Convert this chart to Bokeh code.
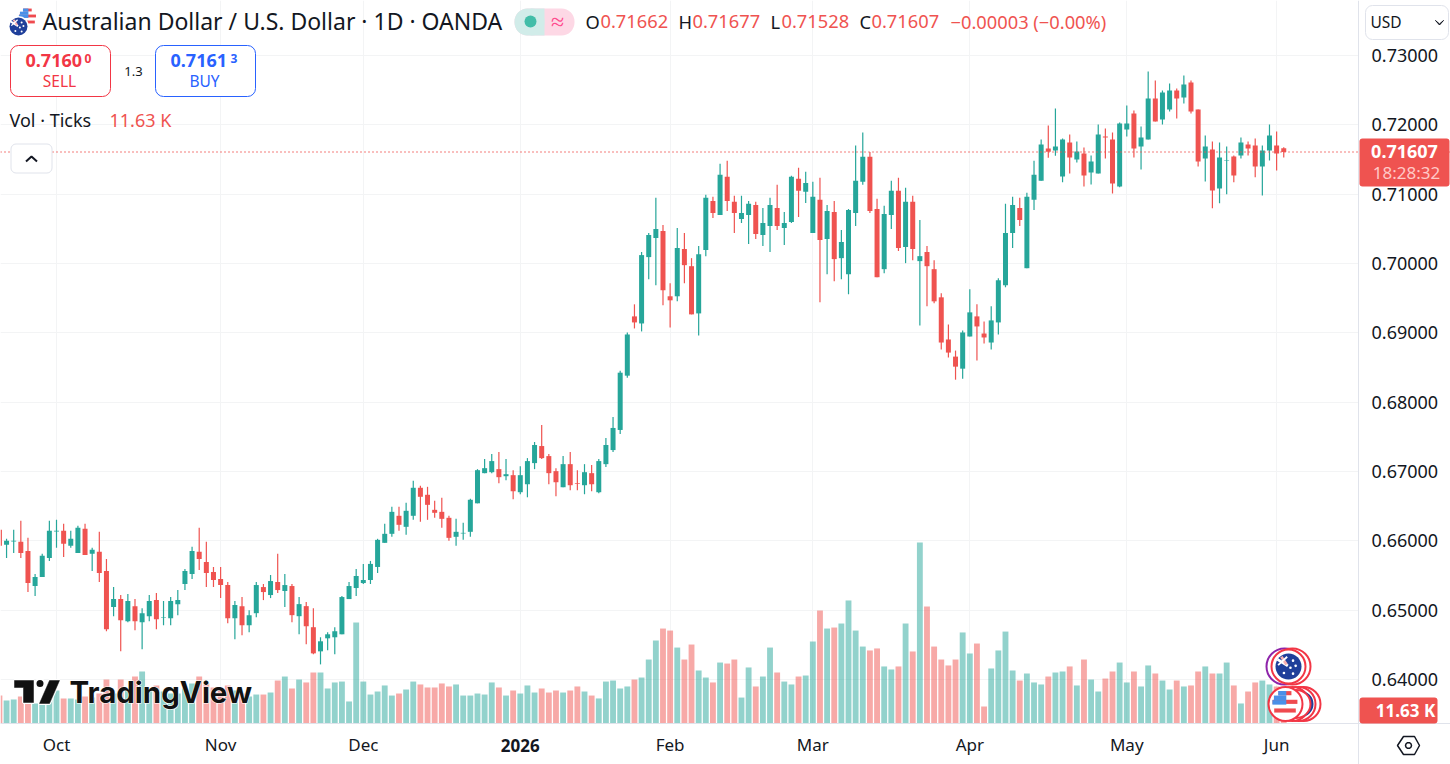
from bokeh.plotting import figure
from bokeh.embed import file_html
from bokeh.resources import INLINE
from bokeh.models import (Range1d, FixedTicker, PrintfTickFormatter, Label, BoxAnnotation,
                          PolyAnnotation, Span)
import math

# ---------------- data ----------------
bar_index = list(range(-8, 173))
opens = [
 .66159,.65942,.6599,.65986,.65855,.65348,.65478,.65754,.66135,.66145,
 .65928,.65826,.66174,.65812,.65841,.65565,.65044,.6516,.64841,.65058,
 .64826,.64913,.65145,.64889,.64884,.65087,.65377,.65522,.65841,.65696,
 .65551,.65449,.65362,.64884,.65058,.64783,.64957,.65333,.65218,.65406,
 .65276,.65348,.64913,.65058,.64754,.64406,.64594,.64609,.64652,.6516,
 .65319,.65391,.65435,.65623,.65971,.66101,.66361,.66202,.66361,.66765,
 .66664,.66447,.66418,.66332,.66058,.66106,.6613,.66541,.66976,.6699,
 .67034,.66932,.66947,.66701,.66816,.67121,.67367,.67222,.67005,.66773,
 .67106,.66831,.66802,.66976,.66701,.67106,.67309,.67599,.68382,.69237,
 .69135,.70092,.70367,.70469,.69527,.69527,.70208,.69961,.6928,.70193,
 .70903,.707,.71251,.70889,.70642,.707,.70845,.70411,.70541,.70802,
 .70512,.70599,.71222,.71034,.7044,.70918,.70353,.70744,.70077,.69845,
 .70729,.71179,.71541,.70787,.69918,.707,.71048,.70237,.70889,.70034,
 .70164,.69918,.69512,.68904,.68657,.68483,.68947,.69237,.6899,.6886,
 .6915,.69686,.7044,.70802,.69932,.70918,.71193,.71657,.71628,.71256,
 .71746,.71501,.71587,.71314,.71299,.71832,.71789,.71112,.71933,.72163,
 .71688,.71789,.72379,.72077,.72221,.72494,.72394,.7261,.72221,.71515,
 .71645,.71083,.71477,.71544,.71558,.71717,.71702,.714,.7163,.71702,.71662]
closes = [
 .65928,.66,.66,.65826,.65391,.65478,.65783,.66145,.66145,.65957,
 .66029,.66188,.65797,.6587,.65536,.64725,.6516,.64855,.65131,.64841,
 .64957,.65131,.6487,.64899,.65131,.65145,.65565,.65855,.65739,.65536,
 .65435,.65362,.64884,.65073,.64783,.64928,.65362,.65261,.6542,.6529,
 .65362,.64928,.65087,.64768,.64377,.64551,.64652,.64696,.65189,.65348,
 .65493,.65435,.65667,.66014,.66101,.66418,.66231,.66433,.66765,.66635,
 .66519,.66404,.66317,.66043,.6613,.66115,.66592,.67019,.67048,.6715,
 .66918,.66961,.66715,.66947,.6715,.67382,.67193,.66976,.66845,.67106,
 .66802,.66821,.6699,.66816,.6715,.67382,.67628,.68425,.68976,.6915,
 .70121,.70411,.70497,.69614,.69469,.70222,.69976,.69266,.70135,.70947,
 .70729,.7128,.70903,.70729,.70729,.7086,.70425,.70584,.70845,.70541,
 .70584,.71251,.71048,.7116,.70961,.70338,.70758,.70063,.70309,.70773,
 .71193,.71541,.70758,.69802,.70715,.71048,.70222,.70889,.70208,.70106,
 .69961,.69454,.6886,.68715,.68512,.69005,.69295,.69092,.68933,.69179,
 .69758,.7044,.70845,.70628,.70961,.7128,.71715,.71613,.71686,.71789,
 .7153,.71616,.7127,.71472,.71861,.71818,.71155,.72019,.72019,.71659,
 .71818,.72379,.72048,.72466,.72494,.72379,.72581,.72192,.71472,.71688,
 .71054,.7153,.71486,.7127,.71746,.71659,.714,.7163,.71846,.71587,.71607]
highs = [
 .66193,.66029,.66159,.6629,.66043,.65522,.65812,.6629,.66304,.66246,
 .66145,.66217,.66246,.65899,.6613,.65739,.65333,.65218,.65232,.6516,
 .65029,.65218,.65247,.65131,.65189,.6529,.65594,.65913,.66188,.65986,
 .65623,.65623,.65406,.65131,.65189,.65,.65406,.65377,.65507,.65812,
 .65522,.65377,.65189,.65116,.65029,.64609,.64681,.64754,.65203,.65406,
 .65594,.65667,.6571,.66029,.66245,.66491,.66491,.66548,.66866,.66794,
 .66779,.66577,.6662,.66361,.66317,.6626,.66606,.67034,.67179,.67251,
 .6728,.67179,.67019,.67077,.67193,.67425,.67671,.67251,.67048,.67222,
 .6728,.67019,.67106,.67092,.67179,.67483,.67787,.68454,.69005,.69411,
 .70164,.7044,.70947,.70555,.69715,.70512,.7044,.70077,.70251,.7099,
 .70961,.71439,.71483,.70976,.70976,.70903,.70889,.70802,.70947,.71135,
 .70744,.71265,.71381,.71323,.71179,.71236,.70845,.70903,.70483,.70787,
 .717,.71889,.71608,.70932,.70831,.71193,.71236,.71092,.70976,.70628,
 .70251,.70048,.6957,.69121,.68744,.69034,.69628,.69411,.69164,.69382,
 .69787,.7086,.70961,.70947,.71019,.71483,.71787,.7199,.72236,.71803,
 .71861,.7176,.71674,.71558,.72005,.71947,.7189,.72034,.72278,.72206,
 .71976,.72768,.72638,.72494,.72595,.72523,.7271,.72638,.72221,.71846,
 .7176,.71746,.71688,.71558,.71818,.7176,.71803,.71702,.72005,.71904,.71677]
lows = [
 .65903,.65754,.65826,.65754,.65261,.65203,.65478,.6571,.65899,.65768,
 .65899,.65826,.65797,.65565,.65406,.64696,.64913,.64406,.64826,.6471,
 .64435,.64841,.64725,.64783,.64783,.64928,.6529,.65449,.6558,.65333,
 .65333,.65174,.64812,.6458,.64638,.64681,.64899,.65145,.65174,.65247,
 .65044,.64826,.64652,.64508,.64363,.64218,.64421,.64363,.64652,.6516,
 .65203,.65377,.65377,.65536,.65971,.66058,.66144,.66087,.66303,.66274,
 .66303,.66332,.66188,.66,.65928,.66014,.66058,.66541,.66976,.66976,
 .66831,.66874,.66599,.66672,.66628,.67034,.67179,.66816,.66643,.66773,
 .6673,.6673,.66672,.66715,.66686,.67063,.6728,.67541,.68353,.69063,
 .6902,.69773,.69686,.69396,.69077,.69454,.69715,.69266,.68962,.70106,
 .70657,.707,.70758,.7044,.70584,.7028,.70353,.70251,.70164,.70483,
 .70266,.70584,.70671,.70874,.7044,.6944,.69845,.69744,.69773,.69556,
 .70541,.71135,.70729,.69802,.6986,.70497,.70179,.70005,.70048,.69106,
 .69382,.69425,.68759,.68643,.68324,.68338,.68947,.68599,.68846,.68759,
 .68976,.69657,.70222,.70541,.69932,.70773,.71193,.71526,.71555,.7117,
 .71299,.71458,.71112,.71141,.71299,.71515,.71011,.71098,.71832,.7153,
 .71357,.71789,.72048,.72005,.72192,.72091,.72307,.72163,.714,.71184,
 .70795,.70867,.70997,.7117,.71515,.71558,.71242,.70982,.71486,.71342,.71528]
volumes_k = [
 25.0,20.6,21.5,24.1,20.6,17.9,20.6,25.0,
 29.5,22.4,22.4,21.5,24.1,23.2,26.8,39.3,26.8,39.3,
 29.5,42.0,46.5,31.3,34.0,28.6,26.8,26.8,31.3,35.8,
 42.0,35.8,32.2,30.4,34.0,29.5,26.8,24.1,25.9,25.9,
 27.7,38.4,42.0,31.3,39.3,36.7,45.6,45.6,31.3,36.7,
 37.5,19.7,90.3,37.5,25.9,28.6,34.0,25.0,26.8,30.4,
 37.5,34.9,32.2,32.2,35.8,33.1,34.9,25.0,25.0,26.8,
 25.9,36.7,32.2,25.0,29.5,26.8,34.0,27.7,31.3,27.7,
 29.5,27.7,29.5,33.1,28.6,25.0,22.4,37.5,38.4,31.3,
 33.1,39.3,41.1,57.2,74.2,84.9,83.1,67.9,57.2,70.6,
 47.4,41.1,36.7,54.5,53.6,57.2,23.2,50.1,33.1,42.0,
 67.9,45.6,37.5,34.9,42.0,42.9,73.3,101.0,84.9,85.8,
 89.4,110.0,83.1,68.8,65.3,67.1,51.0,48.3,51.0,89.4,
 64.4,161.8,104.6,68.8,57.2,51.9,57.2,81.4,62.6,71.5,
 15.2,49.2,65.3,82.2,47.4,38.4,44.7,36.7,34.9,42.0,
 45.6,46.5,51.0,34.0,57.2,39.3,28.6,40.2,46.5,54.5,
 36.7,46.5,33.1,51.9,44.7,38.4,30.4,38.4,33.1,34.0,
 46.5,51.0,44.7,44.7,54.5,34.0,17.9,28.6,36.7,38.4,
 34.9,33.1,11.63]
month_ticks = [0, 23, 43, 65, 86, 106, 128, 150, 171]
month_labels = ["Oct", "Nov", "Dec", "2026", "Feb", "Mar", "Apr", "May", "Jun"]
price_ticks = [0.64, 0.65, 0.66, 0.67, 0.68, 0.69, 0.70, 0.71, 0.72, 0.73]
last_price = 0.71607

# ---------------- style ----------------
GREEN, RED = "#26a69a", "#ef5350"
INK, GRID, EDGE = "#131722", "#f3f4f5", "#e0e3eb"
FONT = "Noto Sans"

# The frame fills the canvas, so the page furniture outside the chart pane can be drawn;
# the two axes sit at fixed locations on the edges of the pane.
p = figure(width=1450, height=764, output_backend="svg", toolbar_location=None,
           x_range=Range1d(-7.849, 195.37), y_range=Range1d(0.62774, 0.73793),
           y_axis_location="right", min_border=0, background_fill_color="white",
           border_fill_color="white", outline_line_color=None)
p.extra_y_ranges = {"vol": Range1d(-36.65, 646.4), "py": Range1d(764, 0)}
p.extra_x_ranges = {"px": Range1d(0, 1450)}

for ax in (p.xaxis[0], p.yaxis[0]):
    ax.axis_line_color = EDGE
    ax.major_tick_line_color = None
    ax.minor_tick_line_color = None
    ax.major_label_text_color = INK
    ax.major_label_text_font = FONT
ax = p.yaxis[0]
ax.fixed_location = 182.48
ax.ticker = FixedTicker(ticks=price_ticks)
ax.formatter = PrintfTickFormatter(format="%.5f")
ax.major_label_text_font_size = "18px"
ax.major_label_standoff = 7
ax = p.xaxis[0]
ax.fixed_location = 0.63365
ax.ticker = FixedTicker(ticks=month_ticks)
ax.major_label_overrides = {t: (" " if l == "2026" else l) for t, l in zip(month_ticks, month_labels)}
ax.major_label_text_font_size = "17px"
ax.major_label_standoff = 3
p.xgrid.grid_line_color = GRID
p.ygrid.grid_line_color = GRID

# white mats: grid lines stop at the edges of the chart pane
for l, r, t, b in [(1358, 1450, 0, 764), (0, 1450, 723, 764)]:
    p.add_layout(BoxAnnotation(left=l, right=r, top=t, bottom=b, left_units="canvas", right_units="canvas",
                               top_units="canvas", bottom_units="canvas", fill_color="white", fill_alpha=1,
                               line_alpha=0, level="underlay"))

# ---------------- series ----------------
up = [c >= o for o, c in zip(opens, closes)]
colors = [GREEN if u else RED for u in up]
tops = [max(o, c) for o, c in zip(opens, closes)]
bots = [min(o, c) for o, c in zip(opens, closes)]
p.vbar(x=bar_index, top=volumes_k, bottom=0, width=0.82, fill_color=colors, fill_alpha=0.5,
       line_color=None, y_range_name="vol")
p.segment(x0=bar_index, x1=bar_index, y0=lows, y1=highs, line_color=colors, line_width=1.2)
p.vbar(x=bar_index, top=tops, bottom=bots, width=0.70, fill_color=colors, line_color=None)
p.add_layout(Span(location=last_price, dimension="width", line_color=RED, line_width=1.4, line_dash="1 3"))

# ---------------- helpers in canvas pixels ----------------
def txt(x, y, text, size, color=INK, align="left", bold=False, font=FONT, **kw):
    p.add_layout(Label(x=x, y=y, x_units="canvas", y_units="canvas", text=text,
                       text_font=font, text_font_size=f"{size}px", text_color=color,
                       text_align=align, text_baseline="middle",
                       text_font_style="bold" if bold else "normal", **kw))

def box(x0, y0, x1, y1, fill="white", line=None, radius=0, lw=1):
    p.add_layout(BoxAnnotation(left=x0, right=x1, top=y0, bottom=y1,
                               left_units="canvas", right_units="canvas", top_units="canvas",
                               bottom_units="canvas", fill_color=fill, fill_alpha=1,
                               line_color=line, line_alpha=1 if line else 0, line_width=lw,
                               border_radius=radius))

def poly(xs, ys, fill=None, line=None, lw=1):
    p.add_layout(PolyAnnotation(xs=list(xs), ys=list(ys), xs_units="canvas", ys_units="canvas",
                                fill_color=fill, fill_alpha=1 if fill else 0,
                                line_color=line, line_alpha=1 if line else 0, line_width=lw))

PX = dict(x_range_name="px", y_range_name="py", level="overlay")

def dot(x, y, d, fill, line=None, lw=1):
    p.scatter([x], [y], marker="circle", size=d, fill_color=fill, line_color=line, line_width=lw, **PX)

def chord(cx, cy, r, dy, color, lw, x0=None, x1=None):
    half = math.sqrt(max(r * r - dy * dy, 0))
    a, b = cx - half, cx + half
    if x0 is not None:
        a = max(a, x0)
    if x1 is not None:
        b = min(b, x1)
    p.line([a, b], [cy + dy, cy + dy], line_color=color, line_width=lw, **PX)

def us_flag(cx, cy, r):
    dot(cx, cy, 2 * r, "white")
    n = 6
    for k in range(n):
        dy = -r + (k + 0.5) * 2 * r / n
        if k % 2 == 0:
            chord(cx, cy, r - 0.4, dy, "#ef4a4f", 2 * r / n * 0.95)
    for k in range(3):
        dy = -r + (k + 0.5) * r / 3 * 1.05
        chord(cx, cy, r - 0.3, dy, "#4a90e8", r / 3 * 1.05, x1=cx + 0.1 * r)

def au_flag(cx, cy, r):
    dot(cx, cy, 2 * r, "#1f3f9a")
    for dx, dy in [(.35, -.45), (.55, -.05), (.15, .1), (.35, .55), (-.35, .5)]:
        dot(cx + dx * r, cy + dy * r, max(2, r * .2), "white")
    p.line([cx - .85 * r, cx - .05 * r], [cy - .55 * r, cy - .05 * r], line_color="#ffffff", line_width=r * .22, **PX)
    p.line([cx - .55 * r, cx - .15 * r], [cy - .75 * r, cy - .15 * r], line_color="#f7b0b0", line_width=r * .22, **PX)
    p.line([cx - .8 * r, cx - .1 * r], [cy - .1 * r, cy - .75 * r], line_color="#ffffff", line_width=r * .14, **PX)

# ---------------- header ----------------
us_flag(27, 17, 9)
dot(18, 26, 21, "white")
au_flag(18, 26, 9)

txt(42, 20.5, "Australian Dollar / U.S. Dollar · 1D · OANDA", 23)
box(514, 8, 574, 35, fill="#fdd8e5", radius=13)
box(514, 8, 544, 35, fill="#d1ece9", radius=13)
box(530, 8, 544, 35, fill="#d1ece9")
dot(530, 21, 12, "#42bda8")
txt(557, 20, "≈", 24, color="#ff4a8d", align="center")

ohlc = [(585, "O", 600, "0.71662"), (678, "H", 692, "0.71677"), (770, "L", 781, "0.71528"), (859, "C", 871, "0.71607")]
for lx, l, vx, v in ohlc:
    txt(lx, 21, l, 18.3)
    txt(vx, 21, v, 18.3, color=RED)
txt(950, 21, "−0.00003 (−0.00%)", 18.3, color=RED)

box(10, 45, 110, 96, line="#f23645", radius=8)
txt(25, 60, "0.7160", 18, color="#f23645", bold=True)
txt(84, 58, "0", 12, color="#f23645", bold=True)
txt(59, 80, "SELL", 15.5, color="#f23645", align="center")
txt(133, 71, "1.3", 13, align="center")
box(155, 45, 255, 96, line="#2962ff", radius=8)
txt(170, 60, "0.7161", 18, color="#2962ff", bold=True)
txt(230, 58, "3", 12, color="#2962ff", bold=True)
txt(204, 80, "BUY", 15.5, color="#2962ff", align="center")

txt(9, 119.5, "Vol · Ticks", 18)
txt(109, 119.5, "11.63 K", 18, color=RED)
box(10.5, 143.5, 51.5, 172.5, line=EDGE, radius=5)
p.line([25.5, 31, 36.5], [161, 156, 161], line_color=INK, line_width=2, **PX)

# ---------------- watermark ----------------
tx = [14, 33, 33, 23, 23, 14]
ty = [680, 680, 702, 702, 687, 687]
sx = [49, 59, 49, 39]
sy = [680, 680, 703, 703]
p.patch(tx, ty, fill_color="#111111", line_color="white", line_width=3, **PX)
p.patch(sx, sy, fill_color="#111111", line_color="white", line_width=3, **PX)
dot(39.5, 683, 9, "#111111", line="white", lw=2)
p.patch(tx, ty, fill_color="#111111", line_color="#111111", line_width=0.5, **PX)
p.patch(sx, sy, fill_color="#111111", line_color="#111111", line_width=0.5, **PX)
txt(69, 691.5, "TradingView", 29.5, color="white", bold=True, font="Inter", text_outline_color="white")
txt(69, 691.5, "TradingView", 29.5, color="#111111", bold=True, font="Inter")

# ---------------- event badges ----------------
for cx, col in [(1284, "#8e24aa"), (1292, "#f23645")]:
    dot(cx, 666, 36, "white", line=col, lw=2)
dot(1288, 666, 34, "white", line="#f23645", lw=2)
au_flag(1288, 666, 13)
for cx in (1303, 1298, 1292):
    dot(cx, 703.5, 34, "white", line="#f23645", lw=2)
dot(1300, 703.5, 26, "#1f3f9a")
dot(1296, 703.5, 28, "white", line="#f23645", lw=2)
dot(1285, 703.5, 34, "white", line="#f23645", lw=2)
us_flag(1284.5, 703.5, 13)

# ---------------- price scale decorations ----------------
box(1365, 5, 1448, 39, line=EDGE, radius=7)
txt(1370, 21, "USD", 15.5)
poly([1435, 1439, 1443, 1439], [20, 23.5, 20, 24.5], fill=INK, line=INK)
box(1359, 138, 1449, 186, fill=RED, radius=3)
txt(1404, 151, "0.71607", 18, color="white", align="center", bold=True)
txt(1406, 172, "18:28:32", 17, color="#ffc9c7", align="center")
box(1359, 697, 1437, 723, fill=RED, radius=3)
txt(1405, 710, "11.63 K", 17, color="white", align="center", bold=True)

poly([1397, 1403, 1414, 1419, 1414, 1403], [745, 736, 736, 745, 754, 754], line=INK, lw=1.5)
ang = [k * math.pi / 5 for k in range(10)]
poly([1408 + 3 * math.cos(a) for a in ang], [745 + 3 * math.sin(a) for a in ang], line=INK, lw=1.5)

# bold year label on the time axis
p.add_layout(Label(x=65, y=745, x_units="data", y_units="canvas", text="2026", text_font=FONT,
                   text_font_size="17px", text_font_style="bold", text_color=INK,
                   text_align="center", text_baseline="middle"))

open("out.html", "w").write(file_html(p, INLINE))
